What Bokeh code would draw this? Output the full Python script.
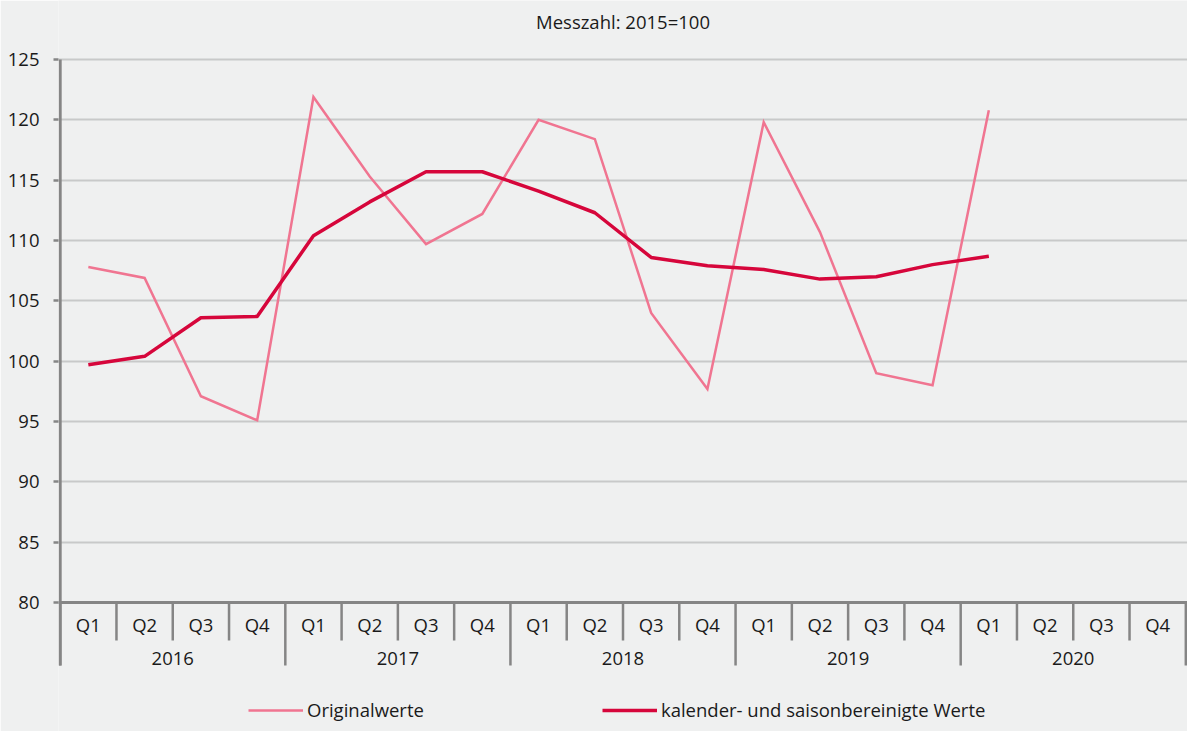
from bokeh.plotting import figure
from bokeh.models import FactorRange, Range1d, FixedTicker, Span, Legend, LegendItem, ColumnDataSource
from bokeh.core.properties import value
from bokeh.embed import file_html
from bokeh.resources import INLINE

years = ["2016", "2017", "2018", "2019", "2020"]
quarters = ["Q1", "Q2", "Q3", "Q4"]
original = [107.8, 106.9, 97.1, 95.1, 121.9, 115.3, 109.7, 112.2, 120.0, 118.4,
            104.0, 97.7, 119.8, 110.7, 99.0, 98.0, 120.8]
adjusted = [99.7, 100.4, 103.6, 103.7, 110.4, 113.2, 115.7, 115.7, 114.1, 112.3,
            108.6, 107.9, 107.6, 106.8, 107.0, 108.0, 108.7]
y_ticks = [80, 85, 90, 95, 100, 105, 110, 115, 120, 125]
title_text = "Messzahl: 2015=100"
label_orig = "Originalwerte"
label_adj = "kalender- und saisonbereinigte Werte"

FONT = "Open Sans"
BG = "#eff0f0"
TXT = "#1a1a1a"
AX = "#858585"

Y_MIN, Y_MAX = 80, 125
Y_BOTTOM, Y_TOP = 69.31, 129.89   # extra room below / above the scale for labels, legend, title
Y_QSEP, Y_YSEP = 76.85, 74.78
Y_QLAB, Y_YLAB = 78.20, 75.35
Y_TITLE = 128.15

factors = [(y, q) for y in years for q in quarters]
n = len(original)

p = figure(width=1187, height=731,
           x_range=FactorRange(*factors, group_padding=0, subgroup_padding=0, factor_padding=0,
                               range_padding=0.03, range_padding_units="absolute"),
           y_range=Range1d(Y_BOTTOM, Y_TOP),
           x_axis_location=None,
           output_backend="svg", toolbar_location=None,
           min_border_left=58, min_border_right=0, min_border_top=0, min_border_bottom=0)
p.background_fill_color = BG
p.border_fill_color = BG
p.outline_line_color = None
p.title.visible = False

p.yaxis.ticker = FixedTicker(ticks=y_ticks)
p.yaxis.axis_line_color = None
p.yaxis.major_tick_line_color = AX
p.yaxis.major_tick_line_width = 2.5
p.yaxis.major_tick_in = 0
p.yaxis.major_tick_out = 5
p.yaxis.minor_tick_line_color = None
p.yaxis.major_label_standoff = 14
p.yaxis.major_label_text_font = FONT
p.yaxis.major_label_text_font_size = "18.5px"
p.yaxis.major_label_text_color = TXT

p.ygrid.ticker = FixedTicker(ticks=y_ticks)
p.ygrid.grid_line_color = "#c8c9c9"
p.ygrid.grid_line_width = 2
p.xgrid.visible = False

# title (centred over the plot)
p.text(x=[(years[2], quarters[1], 0.5)], y=[Y_TITLE], text=[title_text],
       text_align="center", text_baseline="alphabetic",
       text_font=value(FONT), text_font_size="18.5px", text_color=TXT)

# x-axis baseline at 80
p.add_layout(Span(location=Y_MIN, dimension="width", line_color=AX, line_width=3))

# y-axis line (from top of scale down to the bottom of the year separators)
p.segment(x0=[(years[0], quarters[0], -0.5)], y0=[Y_YSEP], x1=[(years[0], quarters[0], -0.5)],
          y1=[Y_MAX], line_color=AX, line_width=3)

# category separators
sep_x = [(y, q, -0.5) for (y, q) in factors] + [(years[-1], quarters[-1], 0.5)]
sep_y1 = [Y_YSEP if q == quarters[0] else Y_QSEP for (y, q) in factors] + [Y_YSEP]
sep_src = ColumnDataSource(dict(x=sep_x, y0=[Y_MIN] * len(sep_x), y1=sep_y1))
p.segment(x0="x", y0="y0", x1="x", y1="y1", source=sep_src, line_color=AX, line_width=2.5)

# category labels
q_src = ColumnDataSource(dict(x=factors, y=[Y_QLAB] * len(factors), t=[q for (y, q) in factors]))
p.text(x="x", y="y", text="t", source=q_src, text_align="center", text_baseline="middle",
       text_font=value(FONT), text_font_size="18.5px", text_color=TXT)
y_src = ColumnDataSource(dict(x=[(y, quarters[1], 0.5) for y in years], y=[Y_YLAB] * len(years), t=years))
p.text(x="x", y="y", text="t", source=y_src, text_align="center", text_baseline="middle",
       text_font=value(FONT), text_font_size="18.5px", text_color=TXT)

r1 = p.line(x=factors[:n], y=original, line_color="#f07591", line_width=2.5, line_join="miter")
r2 = p.line(x=factors[:n], y=adjusted, line_color="#d6063b", line_width=3.5, line_join="round")

legend = Legend(items=[LegendItem(label=label_orig, renderers=[r1]),
                       LegendItem(label=label_adj, renderers=[r2])],
                orientation="horizontal", location=(190, 9), spacing=178,
                glyph_width=55, glyph_height=20, label_standoff=4,
                background_fill_alpha=0, border_line_color=None,
                label_text_font=FONT, label_text_font_size="18.5px", label_text_color=TXT,
                padding=4, margin=0)
p.add_layout(legend, "center")

open("out.html", "w").write(file_html(p, INLINE))
